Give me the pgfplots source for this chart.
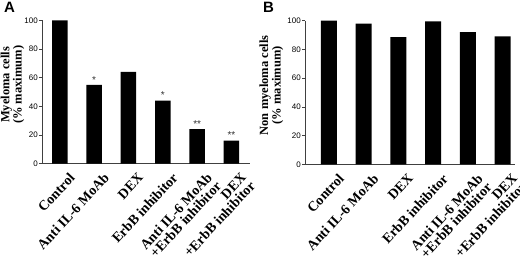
\documentclass[border=0pt]{standalone}
\usepackage{fontspec}
\setmainfont{Liberation Serif}
\newfontfamily\arial{Liberation Sans}
\usepackage{pgfplots}
\pgfplotsset{compat=1.18}
\newcommand{\myTickFont}{\fontsize{14bp}{12.5bp}\selectfont\bfseries}
\newcommand{\myYLabFont}{\fontsize{12.5bp}{9bp}\selectfont\bfseries}
\pgfplotsset{
  panel/.style={
    scale only axis,
    width=208bp, height=143bp,
    ymin=0, ymax=100,
    ytick={0,20,...,100},
    axis lines*=left,
    axis line style={black!75, line width=0.5bp},
    ytick style={black!75, line width=0.5bp},
    xtick style={draw=none},
    major tick length=3bp,
    tick align=outside,
    xtick={0,...,5},
    extra x ticks={0.5,1.5,2.5,3.5,4.5},
    extra x tick labels={},
    extra x tick style={major tick length=1.5bp, tick style={black!60, line width=0.4bp}},
    yticklabel style={font=\arial\fontsize{8bp}{9bp}\selectfont, inner sep=1bp},
    /pgf/number format/assume math mode=true,
    xticklabels={Control, Anti IL-6 MoAb, DEX, ErbB inhibitor, {Anti IL-6 MoAb\\+ErbB inhibitor}, {DEX\\+ErbB inhibitor}},
    xticklabel style={rotate=47, anchor=north east, align=right, inner sep=0pt, font=\myTickFont, xshift=2bp, yshift=-10bp},
    ylabel style={align=center, font=\myYLabFont, inner sep=0pt},
    clip=false,
  }
}
\begin{document}
\begin{tikzpicture}
\begin{axis}[panel, at={(42bp,96.5bp)}, anchor=south west,
  xmin=-0.52, xmax=5.54,
  ylabel={Myeloma cells\\(\% maximum)},
  ylabel style={at={(axis description cs:-0.142,0.55)}, anchor=center}]
\addplot[ybar, bar width=15.5bp, bar shift=0pt, fill=black, draw=none] coordinates {(0,100) (1,55) (2,64) (3,44) (4,24) (5,16)};
\addplot[ybar, bar width=15.5bp, bar shift=0pt, fill=none, draw=none,
  point meta=explicit symbolic, nodes near coords,
  nodes near coords style={font=\arial\fontsize{10bp}{10bp}\selectfont, text=black!80, anchor=south, inner sep=1.5bp}]
  coordinates {(1,55) [*] (3,44) [*] (4,24) [**] (5,16) [**]};
\end{axis}
\begin{axis}[panel, at={(305bp,95.7bp)}, anchor=south west,
  width=210bp, height=143.6bp,
  xmin=-0.69, xmax=5.36,
  ylabel={Non myeloma cells\\(\% maximum)},
  ylabel style={at={(axis description cs:-0.16,0.55)}, anchor=center}]
\addplot[ybar, bar width=16bp, bar shift=0pt, fill=black, draw=none] coordinates {(0,100) (1,98) (2,88.5) (3,99.5) (4,92) (5,89)};
\end{axis}
\node[font=\arial\fontsize{15bp}{15bp}\selectfont\bfseries, anchor=center] at (9.5bp,252.5bp) {A};
\node[font=\arial\fontsize{15bp}{15bp}\selectfont\bfseries, anchor=center] at (268.5bp,252.5bp) {B};
\pgfresetboundingbox
\path (0,0) rectangle (520bp,260bp);
\end{tikzpicture}
\end{document}
